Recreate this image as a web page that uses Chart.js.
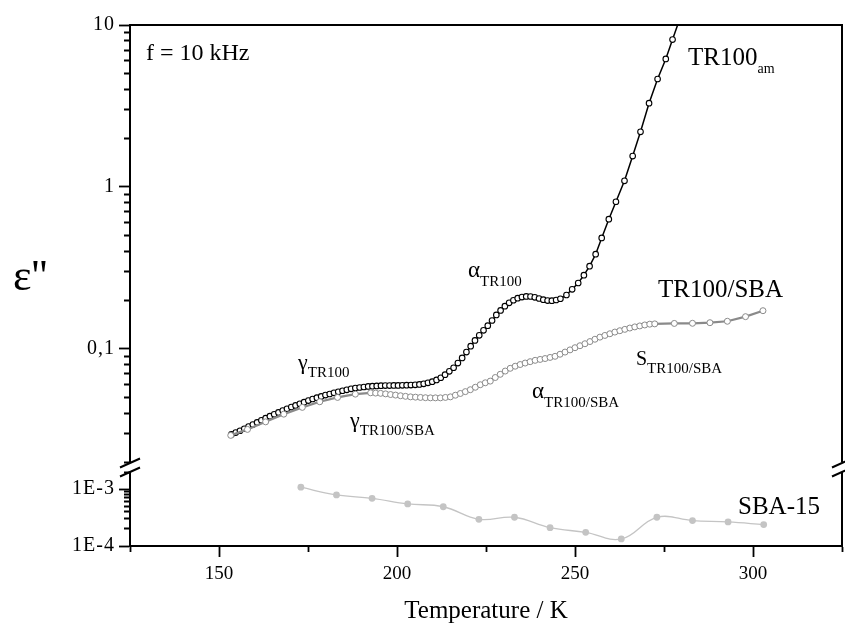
<!DOCTYPE html>
<html><head><meta charset="utf-8">
<script src="https://cdn.jsdelivr.net/npm/chart.js@4.4.1/dist/chart.umd.min.js"></script>
<style>html,body{margin:0;padding:0;background:#fff;}</style>
</head><body>
<canvas id="c" width="845" height="624"></canvas>
<script>
// ---------- data ----------
const tr100T = [153.5,154.7,155.9,157.1,158.3,159.5,160.7,161.9,163.1,164.3,165.5,166.7,167.9,169.1,170.3,171.5,172.7,173.9,175.1,176.3,177.5,178.7,179.9,181.1,182.3,183.5,184.7,185.9,187.1,188.3,189.5,190.7,191.9,193.1,194.3,195.5,196.7,197.9,199.1,200.3,201.5,202.7,203.9,205.1,206.3,207.5,208.7,209.9,211.1,212.3,213.5,214.7,215.9,217.1,218.3,219.5,220.7,221.9,223.1,224.3,225.5,226.7,227.9,229.1,230.3,231.5,232.7,233.9,235.1,236.3,237.5,238.7,239.9,241.1,242.3,243.5,244.7,245.9,247.6,249.2,250.9,252.5,254.1,255.8,257.5,259.5,261.5,263.9,266.2,268.4,270.8,273.2,275.5,277.4,279.6];
const tr100V = [0.0296,0.0304,0.0312,0.0321,0.0331,0.0341,0.0351,0.0362,0.0373,0.0384,0.0394,0.0405,0.0416,0.0426,0.0437,0.0447,0.0458,0.0468,0.0479,0.0490,0.0499,0.0508,0.0518,0.0526,0.0535,0.0543,0.0551,0.0558,0.0566,0.0573,0.0577,0.0581,0.0586,0.0588,0.0590,0.0592,0.0593,0.0593,0.0594,0.0594,0.0595,0.0596,0.0597,0.0599,0.0603,0.0608,0.0617,0.0627,0.0643,0.0663,0.0692,0.0726,0.0764,0.0817,0.0879,0.0955,0.1038,0.1127,0.1212,0.1301,0.139,0.1496,0.1619,0.1727,0.1833,0.1924,0.1996,0.2056,0.2087,0.2108,0.2104,0.2081,0.2045,0.2011,0.1985,0.1982,0.2002,0.2038,0.215,0.233,0.255,0.285,0.324,0.384,0.484,0.632,0.81,1.09,1.55,2.19,3.29,4.64,6.17,8.13,11.2];

const tr100sbaT = [153.3,158.0,163.1,168.2,173.4,178.3,183.3,188.3,192.6,194.0,195.4,196.8,198.2,199.6,201.0,202.4,203.8,205.2,206.6,208.0,209.4,210.8,212.2,213.6,215.0,216.4,217.8,219.2,220.6,222.0,223.4,224.8,226.2,227.6,229.0,230.4,231.8,233.2,234.6,236.0,237.4,238.8,240.2,241.6,243.0,244.4,245.8,247.2,248.6,250.0,251.4,252.8,254.2,255.6,257.0,258.4,259.8,261.2,262.6,264.0,265.4,266.8,268.2,269.6,271.0,272.4,277.9,283.0,287.9,292.8,297.9,302.8];
const tr100sbaV = [0.0292,0.0318,0.0354,0.0395,0.0435,0.0471,0.0501,0.0525,0.0535,0.0533,0.0531,0.0527,0.0522,0.0518,0.0513,0.0509,0.0505,0.0503,0.0501,0.0499,0.0498,0.0498,0.0498,0.0501,0.0505,0.0517,0.0530,0.0544,0.0559,0.0579,0.0600,0.0617,0.0632,0.0665,0.0696,0.0729,0.0758,0.0781,0.0800,0.0817,0.0833,0.0849,0.0860,0.0871,0.0885,0.0899,0.0926,0.0955,0.0985,0.1016,0.1045,0.1075,0.1109,0.1146,0.1181,0.1210,0.1239,0.1269,0.1294,0.1319,0.1344,0.1366,0.1385,0.1404,0.1420,0.1426,0.1435,0.1438,0.145,0.148,0.158,0.172];

const sba15T = [173,183,193,203,213,223,233,243,253,263,273,283,293,303];
const sba15V = [1.08e-3,7.9e-4,6.9e-4,5.5e-4,4.9e-4,2.95e-4,3.2e-4,2.1e-4,1.74e-4,1.33e-4,3.2e-4,2.8e-4,2.65e-4,2.38e-4];

const xTickLabels = ['150','200','250','300'];
const yTickValues = [10, 1, 0.1, 0.001, 0.0001];
const yTickLabels = ['10', '1', '0,1', '1E-3', '1E-4'];

// ---------- helpers ----------
const FONT = '"Liberation Serif", "Times New Roman", serif';
const pts = (xs, ys) => xs.map((x, i) => ({x, y: ys[i]}));
function isDecade(v) { const l = Math.log10(v); return Math.abs(l - Math.round(l)) < 1e-6; }
function logTicks(min, max) {
  const out = [];
  for (let e = Math.floor(Math.log10(min)) - 1; e <= Math.ceil(Math.log10(max)); e++) {
    for (let m = 1; m < 10; m++) {
      const v = +(m * Math.pow(10, e)).toPrecision(6);
      if (v >= min * 0.9999 && v <= max * 1.0001) out.push({value: v});
    }
  }
  return out;
}
function yLabel(v) {
  for (let i = 0; i < yTickValues.length; i++) {
    if (Math.abs(Math.log10(v) - Math.log10(yTickValues[i])) < 1e-6) return yTickLabels[i];
  }
  return '';
}
function spacedLabels(scale, spacing) {
  if (scale._spaced) return;
  const orig = scale.drawLabels.bind(scale);
  scale.drawLabels = function (area) {
    const c = this.ctx; const old = c.letterSpacing;
    c.letterSpacing = spacing; orig(area); c.letterSpacing = old || '0px';
  };
  scale._spaced = true;
}
const Y_TL = 11;
function yAxis(min, max, weight, stackWeight) {
  return {
    type: 'logarithmic', position: 'left', stack: 'eps', stackWeight, weight,
    min, max,
    afterBuildTicks: s => { s.ticks = logTicks(s.min, s.max); },
    afterFit: s => { s.width = 70; },
    afterUpdate: s => spacedLabels(s, '1px'),
    border: {display: true, color: '#000', width: 2},
    grid: {
      drawOnChartArea: false, drawTicks: true, tickLength: Y_TL, tickColor: '#000', tickWidth: 1.8,
      tickBorderDash: c => (c.tick && isDecade(c.tick.value)) ? [] : [0, 5, 6, 100]
    },
    ticks: {
      autoSkip: false, padding: 4, color: '#000',
      font: {family: FONT, size: 20},
      callback: v => yLabel(v)
    }
  };
}

// ---------- annotations ----------
const notes = [
  {x: 146, y: 60, parts: [{t: 'f = 10 kHz', s: 24}]},
  {x: 688, y: 65, parts: [{t: 'TR100', s: 25}, {t: 'am', s: 14, dy: 8}]},
  {x: 658, y: 297, parts: [{t: 'TR100/SBA', s: 25}]},
  {x: 636, y: 365, parts: [{t: 'S', s: 20}, {t: 'TR100/SBA', s: 15, dy: 8}]},
  {x: 468, y: 277, parts: [{t: 'α', s: 23}, {t: 'TR100', s: 15, dy: 9}]},
  {x: 532, y: 398, parts: [{t: 'α', s: 23}, {t: 'TR100/SBA', s: 15, dy: 9}]},
  {x: 298, y: 369, parts: [{t: 'γ', s: 22}, {t: 'TR100', s: 15, dy: 8}]},
  {x: 350, y: 427, parts: [{t: 'γ', s: 22}, {t: 'TR100/SBA', s: 15, dy: 8}]},
  {x: 738, y: 514, parts: [{t: 'SBA-15', s: 25}]},
  {x: 13, y: 290, parts: [{t: "\u03b5''", s: 44}]}
];

const decor = {
  id: 'decor',
  afterDraw(chart) {
    const ctx = chart.ctx, a = chart.chartArea;
    const yU = chart.scales.y, yL = chart.scales.y2;
    const gTop = yU.bottom, gBot = yL.top;
    ctx.save();
    ctx.strokeStyle = '#000'; ctx.lineWidth = 2; ctx.lineCap = 'butt';
    // top and right frame
    ctx.beginPath();
    ctx.moveTo(a.left - 1, a.top); ctx.lineTo(a.right, a.top);
    ctx.moveTo(a.right, a.top - 1); ctx.lineTo(a.right, gTop);
    ctx.moveTo(a.right, gBot); ctx.lineTo(a.right, a.bottom + 1);
    ctx.stroke();
    // axis break marks
    for (const x of [a.left, a.right]) {
      ctx.beginPath();
      ctx.moveTo(x - 10, gTop + 5.5); ctx.lineTo(x + 10, gTop - 3.5);
      ctx.moveTo(x - 10, gBot + 4.5); ctx.lineTo(x + 10, gBot - 4.5);
      ctx.stroke();
    }
    // labels
    ctx.fillStyle = '#000'; ctx.textBaseline = 'alphabetic'; ctx.textAlign = 'left';
    for (const n of notes) {
      let x = n.x;
      for (const p of n.parts) {
        ctx.font = p.s + 'px ' + FONT;
        ctx.fillText(p.t, x, n.y + (p.dy || 0));
        x += ctx.measureText(p.t).width;
      }
    }
    ctx.restore();
  }
};

new Chart(document.getElementById('c'), {
  type: 'line',
  data: {
    datasets: [
      {
        label: 'TR100/SBA', data: pts(tr100sbaT, tr100sbaV), yAxisID: 'y', order: 0,
        borderColor: '#8a8a8a', borderWidth: 2.2, tension: 0,
        pointRadius: 3, pointBorderWidth: 1, pointBorderColor: '#8a8a8a', pointBackgroundColor: '#fff'
      },
      {
        label: 'TR100am', data: pts(tr100T, tr100V), yAxisID: 'y', order: 1,
        borderColor: '#000', borderWidth: 1.5, tension: 0,
        pointRadius: 2.8, pointBorderWidth: 1.1, pointBorderColor: '#000', pointBackgroundColor: '#fff'
      },
      {
        label: 'SBA-15', data: pts(sba15T, sba15V), yAxisID: 'y2', order: 2,
        borderColor: '#c4c4c4', borderWidth: 1.3, tension: 0.4,
        pointRadius: 3.4, pointBorderWidth: 0, pointBorderColor: '#c4c4c4', pointBackgroundColor: '#c4c4c4'
      }
    ]
  },
  options: {
    responsive: false, animation: false, devicePixelRatio: 1,
    layout: {autoPadding: false, padding: {left: 60, top: 25, right: 3, bottom: 0}},
    plugins: {legend: {display: false}, tooltip: {enabled: false}},
    scales: {
      x: {
        type: 'linear', position: 'bottom', min: 125, max: 325,
        afterFit: s => { s.height = 78; s.paddingLeft = 0; s.paddingRight = 0; },
        border: {display: true, color: '#000', width: 2},
        grid: {
          drawOnChartArea: false, drawTicks: true, tickLength: 11, tickColor: '#000', tickWidth: 1.8,
          tickBorderDash: c => (c.tick && xTickLabels.includes(String(c.tick.value))) ? [] : [5, 100]
        },
        ticks: {
          stepSize: 25, autoSkip: false, maxRotation: 0, padding: 6, color: '#000',
          font: {family: FONT, size: 19},
          callback: v => xTickLabels.includes(String(v)) ? String(v) : ''
        },
        title: {display: true, text: 'Temperature / K', color: '#000',
          font: {family: FONT, size: 25, lineHeight: 1}, padding: {top: 0, bottom: 0}}
      },
      y: yAxis(0.02, 10, 3, 437),
      ygap: {type: 'linear', position: 'left', stack: 'eps', stackWeight: 10, weight: 2, display: false,
        afterFit: s => { s.width = 70; }},
      y2: yAxis(0.0001, 0.002, 1, 74)
    }
  },
  plugins: [decor]
});
</script>
</body></html>
